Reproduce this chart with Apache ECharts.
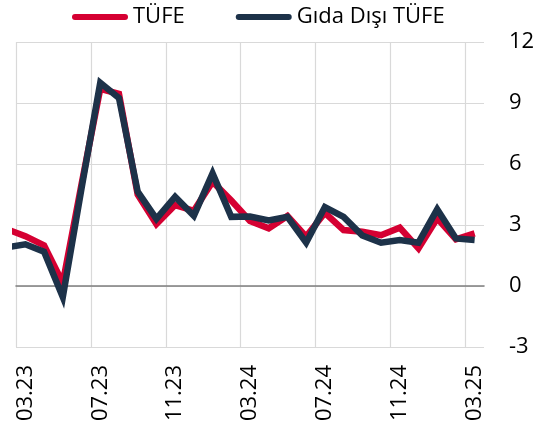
<!DOCTYPE html>
<html>
<head>
<meta charset="utf-8">
<script src="https://cdn.jsdelivr.net/npm/echarts@6/dist/echarts.min.js"></script>
<style>html,body{margin:0;padding:0;background:#fff}#c{width:542px;height:427px}</style>
</head>
<body>
<div id="c"></div>
<script>
// Months shown on the axis (03.23 .. 03.25)
const categories = ["03.23","04.23","05.23","06.23","07.23","08.23","09.23","10.23","11.23","12.23",
  "01.24","02.24","03.24","04.24","05.24","06.24","07.24","08.24","09.24","10.24","11.24","12.24",
  "01.25","02.25","03.25"];
// One earlier month (02.23) whose segment is clipped at the left edge
const leadMonth = "02.23";
const tufe = [2.8, 2.45, 2.0, 0.15, 5.0, 9.7, 9.45, 4.5, 3.05, 3.98, 3.7, 5.13, 4.2, 3.2, 2.84,
  3.44, 2.43, 3.6, 2.75, 2.67, 2.5, 2.87, 1.85, 3.33, 2.3, 2.59];
const gidaDisi = [1.9, 2.05, 1.68, -0.55, 4.8, 10.0, 9.25, 4.64, 3.3, 4.39, 3.45, 5.54, 3.4, 3.42,
  3.22, 3.4, 2.13, 3.88, 3.4, 2.48, 2.13, 2.26, 2.13, 3.77, 2.34, 2.26];
const yTicks = [-3, 0, 3, 6, 9, 12];

const toPts = arr => arr.map((v, i) => [i - 1, v]);
const FONT = 'Open Sans';
const pill = 'path://M3,0 L53,0 A3,3 0 0 1 53,6 L3,6 A3,3 0 0 1 3,0 Z';
const chart = echarts.init(document.getElementById('c'), null, {renderer: 'canvas'});
chart.setOption({
  animation: false,
  textStyle: {fontFamily: FONT},
  legend: {
    left: 67, top: 1,
    itemWidth: 56, itemHeight: 6, itemGap: 51,
    textStyle: {fontSize: 22, color: '#000', fontFamily: FONT},
    data: [{name: 'TÜFE', icon: pill}, {name: 'Gıda Dışı TÜFE', icon: pill}]
  },
  grid: {left: 16, right: 58, top: 42, bottom: 80, containLabel: false, outerBoundsMode: 'none'},
  xAxis: [{
    type: 'category', data: categories, boundaryGap: true,
    axisLine: {show: true, onZero: true, lineStyle: {color: '#7f7f7f', width: 1.6}},
    axisTick: {show: false, interval: 3},
    axisLabel: {interval: 3, rotate: 90, margin: 18, fontSize: 22, color: '#000', fontFamily: FONT},
    splitLine: {show: true, interval: 3, showMinLine: true, showMaxLine: false,
      lineStyle: {color: '#d9d9d9', width: 1.2}}
  }, {
    type: 'value', min: -0.5, max: 24.5, show: false,
    splitLine: {show: false}
  }],
  yAxis: {
    type: 'value', position: 'right', min: yTicks[0], max: yTicks[yTicks.length - 1], interval: 3,
    axisLine: {show: false}, axisTick: {show: false},
    axisLabel: {margin: 25, fontSize: 22, color: '#000', fontFamily: FONT},
    splitLine: {show: true, lineStyle: {color: '#d9d9d9', width: 1.2}}
  },
  series: [{
    name: 'TÜFE', type: 'line', xAxisIndex: 1, data: toPts(tufe),
    symbol: 'none', clip: true,
    lineStyle: {color: '#d50032', width: 6.5, join: 'miter'}, itemStyle: {color: '#d50032'}
  }, {
    name: 'Gıda Dışı TÜFE', type: 'line', xAxisIndex: 1, data: toPts(gidaDisi),
    symbol: 'none', clip: true,
    lineStyle: {color: '#1d3249', width: 6.5, join: 'miter'}, itemStyle: {color: '#1d3249'}
  }]
});
</script>
</body>
</html>
